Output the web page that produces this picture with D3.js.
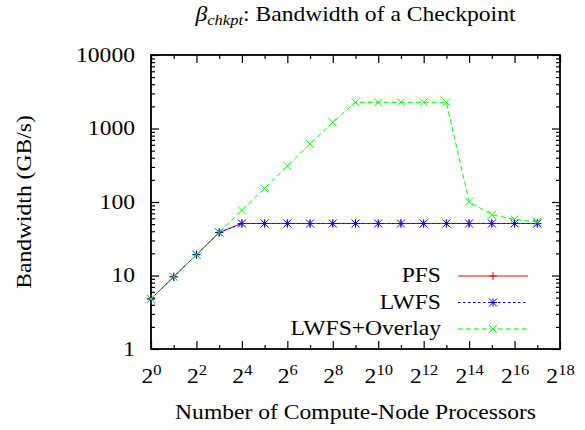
<!DOCTYPE html>
<html>
<head>
<meta charset="utf-8">
<script src="https://cdn.jsdelivr.net/npm/d3@7"></script>
<style>
  body { margin: 0; background: #fff; }
  svg text { font-family: "Liberation Serif", "Times New Roman", serif; fill: #000; }
  .axis path { display: none; }
  .axis line { stroke: #000; stroke-width: 1.2; }
</style>
</head>
<body>
<div id="chart"></div>
<script>
// data
var exponents = [0, 1, 2, 3, 4, 5, 6, 7, 8, 9, 10, 11, 12, 13, 14, 15, 16, 17];
var pfs = [4.8, 9.6, 19.2, 38.5, 51, 51, 51, 51, 51, 51, 51, 51, 51, 51, 51, 51, 51, 51];
var lwfs = [4.8, 9.6, 19.2, 38.5, 51, 51, 51, 51, 51, 51, 51, 51, 51, 51, 51, 51, 51, 51];
var overlay = [4.8, 9.6, 19.2, 38.5, 77, 153, 309, 615, 1214, 2270, 2270, 2270, 2270, 2270, 101, 67, 58, 53.5];
var seriesNames = ["PFS", "LWFS", "LWFS+Overlay"];
var xMajorExp = [0, 2, 4, 6, 8, 10, 12, 14, 16, 18];
var xMinorExp = [1, 3, 5, 7, 9, 11, 13, 15, 17];
var yMajor = [1, 10, 100, 1000, 10000];

var W = 585, H = 430;
var plotL = 151, plotR = 560, plotT = 55, plotB = 349;
var stretch = 1.18; // glyphs in the picture are wider than Times

var svg = d3.select("#chart").append("svg")
    .attr("width", W)
    .attr("height", H);

var x = d3.scaleLog().base(2).domain([1, Math.pow(2, 18)]).range([plotL, plotR]);
var y = d3.scaleLog().domain([1, 10000]).range([plotB, plotT]);

var yMinor = [];
[1, 10, 100, 1000].forEach(function (d) {
    for (var k = 2; k <= 9; k++) yMinor.push(d * k);
});

var pow2 = function (e) { return Math.pow(2, e); };

// ---- ticks (gnuplot style, pointing inwards, mirrored)
svg.append("g").attr("class", "axis")
    .attr("transform", "translate(0," + plotB + ")")
    .call(d3.axisBottom(x).tickValues(xMinorExp.map(pow2)).tickSize(-4).tickFormat(""));
var xAxisG = svg.append("g").attr("class", "axis")
    .attr("transform", "translate(0," + plotB + ")")
    .call(d3.axisBottom(x).tickValues(xMajorExp.map(pow2)).tickSize(-8).tickFormat(""));
svg.append("g").attr("class", "axis")
    .attr("transform", "translate(0," + plotT + ")")
    .call(d3.axisTop(x).tickValues(xMinorExp.map(pow2)).tickSize(-4).tickFormat(""));
svg.append("g").attr("class", "axis")
    .attr("transform", "translate(0," + plotT + ")")
    .call(d3.axisTop(x).tickValues(xMajorExp.map(pow2)).tickSize(-8).tickFormat(""));

svg.append("g").attr("class", "axis")
    .attr("transform", "translate(" + plotL + ",0)")
    .call(d3.axisLeft(y).tickValues(yMinor).tickSize(-4).tickFormat(""));
var yAxisG = svg.append("g").attr("class", "axis")
    .attr("transform", "translate(" + plotL + ",0)")
    .call(d3.axisLeft(y).tickValues(yMajor).tickSize(-8).tickFormat(d3.format("d")));
svg.append("g").attr("class", "axis")
    .attr("transform", "translate(" + plotR + ",0)")
    .call(d3.axisRight(y).tickValues(yMinor).tickSize(-4).tickFormat(""));
svg.append("g").attr("class", "axis")
    .attr("transform", "translate(" + plotR + ",0)")
    .call(d3.axisRight(y).tickValues(yMajor).tickSize(-8).tickFormat(""));

// y tick labels
yAxisG.selectAll(".tick text")
    .attr("font-size", 20)
    .attr("x", -16 / stretch)
    .attr("dy", "0.32em")
    .attr("transform", "scale(" + stretch + ",1)");

// x tick labels as 2^n
xAxisG.selectAll(".tick").each(function (d) {
    var e = Math.round(Math.log2(d));
    var t = d3.select(this).select("text");
    t.text("")
        .attr("font-size", 20)
        .attr("y", 34)
        .attr("dy", 0)
        .attr("text-anchor", "middle")
        .attr("transform", "scale(" + stretch + ",1)");
    t.append("tspan").text("2");
    t.append("tspan").attr("font-size", 14).attr("dy", -8).text(e);
});

// frame
svg.append("rect")
    .attr("x", plotL).attr("y", plotT)
    .attr("width", plotR - plotL).attr("height", plotB - plotT)
    .attr("fill", "none").attr("stroke", "#000").attr("stroke-width", 1.8);

// ---- series
function plus(s) { return "M" + -s + ",0H" + s + "M0," + -s + "V" + s; }
function cross(s) { return "M" + -s + "," + -s + "L" + s + "," + s + "M" + -s + "," + s + "L" + s + "," + -s; }
function star(s) { return plus(s) + cross(s); }

var series = [
    { name: seriesNames[0], values: pfs, color: "#ff0000", dash: null, marker: plus },
    { name: seriesNames[1], values: lwfs, color: "#0000ff", dash: "2.5,2.5", marker: star },
    { name: seriesNames[2], values: overlay, color: "#00ff00", dash: "5,3", marker: cross }
];

var line = d3.line()
    .x(function (d) { return x(pow2(d.e)); })
    .y(function (d) { return y(d.v); });

series.forEach(function (s) {
    var pts = exponents.map(function (e, i) { return { e: e, v: s.values[i] }; });
    var g = svg.append("g");
    g.append("path")
        .datum(pts)
        .attr("d", line)
        .attr("fill", "none")
        .attr("stroke", s.color)
        .attr("stroke-width", 1)
        .attr("stroke-dasharray", s.dash);
    g.selectAll(".pt")
        .data(pts)
        .enter()
        .append("path")
        .attr("transform", function (d) { return "translate(" + x(pow2(d.e)) + "," + y(d.v) + ")"; })
        .attr("d", s.marker(4))
        .attr("fill", "none")
        .attr("stroke", s.color)
        .attr("stroke-width", 1);
});

// ---- legend
var legend = svg.append("g");
series.forEach(function (s, i) {
    var ly = 276 + i * 26.5;
    legend.append("text")
        .attr("transform", "translate(441," + ly + ") scale(" + stretch + ",1)")
        .attr("text-anchor", "end")
        .attr("dy", "0.32em")
        .attr("font-size", 20)
        .text(s.name);
    legend.append("line")
        .attr("x1", 458).attr("x2", 528)
        .attr("y1", ly).attr("y2", ly)
        .attr("stroke", s.color)
        .attr("stroke-width", 1)
        .attr("stroke-dasharray", s.dash);
    legend.append("path")
        .attr("transform", "translate(493," + ly + ")")
        .attr("d", s.marker(4))
        .attr("fill", "none")
        .attr("stroke", s.color)
        .attr("stroke-width", 1);
});

// ---- labels
var title = svg.append("text")
    .attr("transform", "translate(" + ((plotL + plotR) / 2) + ",21) scale(" + stretch + ",1)")
    .attr("text-anchor", "middle")
    .attr("font-size", 20);
title.append("tspan").attr("font-style", "italic").text("β");
title.append("tspan").attr("font-style", "italic").attr("font-size", 14).attr("dy", 4).text("chkpt");
title.append("tspan").attr("dy", -4).text(": Bandwidth of a Checkpoint");

svg.append("text")
    .attr("transform", "translate(" + ((plotL + plotR) / 2) + ",419) scale(" + stretch + ",1)")
    .attr("text-anchor", "middle")
    .attr("font-size", 20)
    .text("Number of Compute-Node Processors");

svg.append("text")
    .attr("transform", "translate(31," + ((plotT + plotB) / 2) + ") rotate(-90) scale(" + stretch + ",1)")
    .attr("text-anchor", "middle")
    .attr("font-size", 20)
    .text("Bandwidth (GB/s)");
</script>
</body>
</html>
